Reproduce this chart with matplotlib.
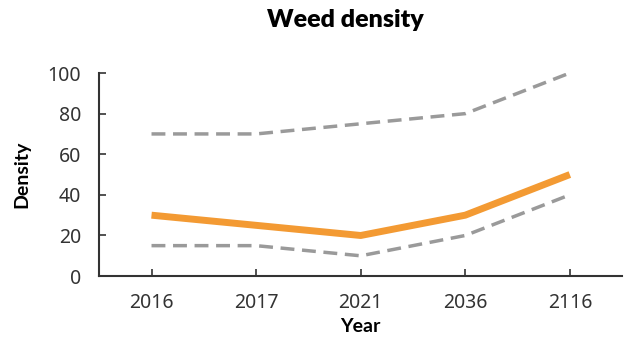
import matplotlib.pyplot as plt

# data
years = ["2016", "2017", "2021", "2036", "2116"]
density = [30, 25, 20, 30, 50]
upper = [70, 70, 75, 80, 100]
lower = [15, 15, 10, 20, 40]

plt.rcParams["font.family"] = ["Noto Sans", "DejaVu Sans"]

fig = plt.figure(figsize=(6.24, 3.46), dpi=100)
ax = fig.add_axes([0.159, 0.202, 0.838, 0.587])

x = range(len(years))
ax.plot(x, upper, color="#9a9a9a", lw=2.5, dashes=(4, 2.2))
ax.plot(x, lower, color="#9a9a9a", lw=2.5, dashes=(4, 2.2))
ax.plot(x, density, color="#f39a33", lw=5, solid_capstyle="butt")

ax.set_xlim(-0.5, 4.5)
ax.set_ylim(0, 100)
ax.set_yticks(range(0, 101, 20))
ax.set_xticks(list(x))
ax.set_xticklabels(years)
ax.tick_params(direction="in", length=5, width=1.2, colors="#333333",
               labelsize=14, labelcolor="#333333", pad=13)
ax.tick_params(axis="x", pad=12)

for s in ["top", "right"]:
    ax.spines[s].set_visible(False)
for s in ["left", "bottom"]:
    ax.spines[s].set_linewidth(1.5)
    ax.spines[s].set_color("#333333")

ax.set_xlabel("Year", fontsize=14, fontweight="bold", labelpad=4,
              family=["Lato", "DejaVu Sans"])
ax.set_ylabel("Density", fontsize=14, fontweight="bold", labelpad=12,
              family=["Lato", "DejaVu Sans"])
fig.suptitle("Weed density", x=0.553, y=0.975, fontsize=18, fontweight="heavy",
             family=["Lato", "DejaVu Sans"])

plt.savefig("out.png")
